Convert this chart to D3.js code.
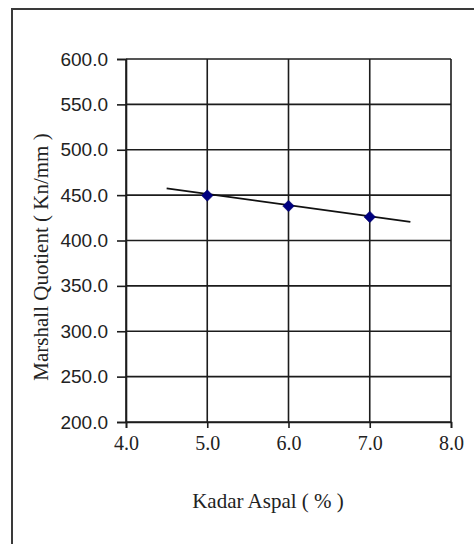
<!DOCTYPE html>
<html>
<head>
<meta charset="utf-8">
<script src="https://cdn.jsdelivr.net/npm/d3@7"></script>
<style>
html,body{margin:0;padding:0;background:#fff;}
svg{display:block;}
</style>
</head>
<body>
<svg id="chart" width="474" height="544"></svg>
<script>
const kadarAspal = [5.0, 6.0, 7.0];
const marshallQuotient = [449.5, 438.0, 426.0];
const trendX = [4.5, 7.5];
const trendY = [457.5, 420.5];
const xTicks = [4.0, 5.0, 6.0, 7.0, 8.0];
const yTicks = [200, 250, 300, 350, 400, 450, 500, 550, 600];
const xTitle = "Kadar Aspal ( % )";
const yTitle = "Marshall Quotient ( Kn/mm )";

const svg = d3.select("#chart");
const W = 474, H = 544;
const m = {left:126, top:59, right:451, bottom:422};

// outer frame
svg.append("path")
  .attr("d", `M12,${H+5} L12,9 L${W+5},9`)
  .attr("fill","none").attr("stroke","#3a3a3a").attr("stroke-width",2);

const x = d3.scaleLinear().domain([4,8]).range([m.left, m.right]);
const y = d3.scaleLinear().domain([200,600]).range([m.bottom, m.top]);

const gridColor = "#1c1c1c";
// grid
svg.append("g").selectAll("line").data(yTicks).join("line")
  .attr("x1", m.left).attr("x2", m.right)
  .attr("y1", d=>y(d)).attr("y2", d=>y(d))
  .attr("stroke", gridColor).attr("stroke-width",1.6);
svg.append("g").selectAll("line").data(xTicks).join("line")
  .attr("y1", m.top).attr("y2", m.bottom)
  .attr("x1", d=>x(d)).attr("x2", d=>x(d))
  .attr("stroke", gridColor).attr("stroke-width",1.6);

// axes
const yAxis = d3.axisLeft(y).tickValues(yTicks).tickSize(9).tickPadding(9).tickFormat(d3.format(".1f"));
const gy = svg.append("g").attr("transform",`translate(${m.left},0)`).call(yAxis);
gy.select(".domain").attr("stroke",gridColor).attr("stroke-width",1.6);
gy.selectAll(".tick line").attr("stroke",gridColor).attr("stroke-width",1.6);
gy.selectAll(".tick text").attr("font-family","'Liberation Sans', Arial, sans-serif")
  .attr("font-size","19px").attr("fill","#222");

const xAxis = d3.axisBottom(x).tickValues(xTicks).tickSize(6).tickPadding(8).tickFormat(d3.format(".1f"));
const gx = svg.append("g").attr("transform",`translate(0,${m.bottom})`).call(xAxis);
gx.select(".domain").attr("stroke",gridColor).attr("stroke-width",1.6);
gx.selectAll(".tick line").attr("stroke",gridColor).attr("stroke-width",1.6);
gx.selectAll(".tick text").attr("font-family","'Liberation Serif', 'Times New Roman', serif")
  .attr("font-size","20px").attr("fill","#222");

// trend line
svg.append("path")
  .datum(trendX.map((d,i)=>[d, trendY[i]]))
  .attr("d", d3.line().x(d=>x(d[0])).y(d=>y(d[1])))
  .attr("fill","none").attr("stroke","#111").attr("stroke-width",1.7);

// markers
svg.append("g").selectAll("path").data(kadarAspal).join("path")
  .attr("d", d3.symbol().type(d3.symbolDiamond2).size(85))
  .attr("transform",(d,i)=>`translate(${x(d)},${y(marshallQuotient[i])})`)
  .attr("fill","#000080").attr("stroke","#000060").attr("stroke-width",0.5);

// titles
svg.append("text").attr("x",268).attr("y",508).attr("text-anchor","middle")
  .attr("font-family","'Liberation Serif', 'Times New Roman', serif")
  .attr("font-size","21px").attr("fill","#222").text(xTitle);
svg.append("text").attr("transform","translate(48,257) rotate(-90)").attr("text-anchor","middle")
  .attr("font-family","'Liberation Serif', 'Times New Roman', serif")
  .attr("font-size","21px").attr("fill","#222").text(yTitle);
</script>
</body>
</html>
